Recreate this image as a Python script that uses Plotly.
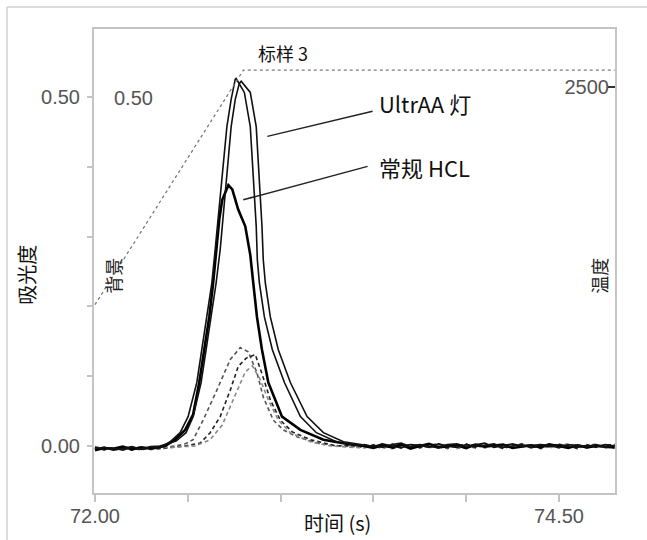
import plotly.graph_objects as go

# ---------------- data ----------------
BASE_T_LEFT = [72.00, 72.05, 72.10, 72.15, 72.20, 72.25, 72.30, 72.35]
BASE_T_RIGHT = [73.45, 73.50, 73.55, 73.60, 73.65, 73.70, 73.75, 73.80, 73.85, 73.90,
                73.95, 74.00, 74.05, 74.10, 74.15, 74.20, 74.25, 74.30, 74.35, 74.40,
                74.45, 74.50, 74.55, 74.60, 74.65, 74.70, 74.75, 74.80]

# UltrAA lamp, replicate a
UA_A_T = [72.405, 72.459, 72.502, 72.549, 72.576, 72.603, 72.630, 72.648, 72.679, 72.711,
          72.734, 72.756, 72.761, 72.805, 72.837, 72.848, 72.859, 72.869, 72.875, 72.886,
          72.913, 72.956, 73.021, 73.107, 73.193, 73.301, 73.431]
UA_A_V = [0.006, 0.019, 0.042, 0.091, 0.138, 0.185, 0.234, 0.282, 0.364, 0.458,
          0.497, 0.526, 0.527, 0.507, 0.458, 0.411, 0.364, 0.315, 0.267, 0.234,
          0.185, 0.138, 0.091, 0.042, 0.019, 0.006, 0.000]
UA_A_L = [-0.004, -0.002, -0.006, -0.003, -0.001, -0.005, -0.002, -0.003]
UA_A_R = [0.002, -0.001, 0.003, 0.000, -0.003, 0.002, 0.001, -0.002, 0.003, 0.000,
          -0.002, 0.002, -0.001, 0.001, 0.003, -0.002, 0.000, 0.002, -0.003, 0.001,
          -0.001, 0.002, 0.000, -0.002, 0.001, -0.001, 0.002, 0.000]

# UltrAA lamp, replicate b
UA_B_T = [72.437, 72.491, 72.529, 72.572, 72.599, 72.626, 72.653, 72.675, 72.702, 72.734,
          72.756, 72.778, 72.788, 72.837, 72.869, 72.880, 72.891, 72.900, 72.907, 72.918,
          72.945, 72.988, 73.053, 73.143, 73.231, 73.339, 73.485]
UA_B_V = [0.007, 0.019, 0.042, 0.091, 0.138, 0.185, 0.234, 0.282, 0.364, 0.458,
          0.497, 0.520, 0.523, 0.507, 0.458, 0.411, 0.364, 0.315, 0.267, 0.234,
          0.185, 0.138, 0.091, 0.042, 0.019, 0.006, 0.000]
UA_B_L = [-0.002, -0.005, -0.003, -0.006, -0.002, -0.004, -0.001, 0.000]
UA_B_R = [0.003, 0.001, -0.002, 0.002, 0.004, -0.001, 0.002, 0.000, -0.003, 0.002,
          0.003, -0.001, 0.001, 0.004, -0.002, 0.001, 0.003, -0.001, 0.000, 0.002,
          0.001, -0.003, 0.002, 0.000, -0.001, 0.002, -0.002, 0.001]

# Conventional HCL
HCL_T = [72.378, 72.432, 72.486, 72.529, 72.562, 72.589, 72.616, 72.637, 72.653, 72.670,
         72.686, 72.707, 72.719, 72.740, 72.772, 72.810, 72.837, 72.853, 72.873, 72.900,
         72.934, 73.008, 73.107, 73.231, 73.377]
HCL_V = [0.000, 0.009, 0.023, 0.045, 0.091, 0.138, 0.185, 0.234, 0.282, 0.325,
         0.353, 0.368, 0.374, 0.368, 0.339, 0.315, 0.274, 0.234, 0.185, 0.138,
         0.091, 0.042, 0.023, 0.009, 0.002]
HCL_L = [-0.006, -0.003, -0.004, -0.001, -0.005, -0.002, -0.004, -0.001]
HCL_R = [0.000, -0.003, 0.001, -0.002, 0.002, -0.004, 0.000, 0.003, -0.002, -0.001,
         0.001, -0.003, 0.002, -0.001, 0.000, 0.002, -0.003, -0.001, 0.001, -0.002,
         0.002, 0.000, -0.003, 0.001, -0.002, 0.000, -0.001, -0.002]

# Background (dashed) traces
D1_T = [72.432, 72.486, 72.529, 72.583, 72.657, 72.729, 72.783, 72.826, 72.873, 72.907,
        72.961, 73.015, 73.089, 73.215, 73.323]
D1_V = [0.000, 0.003, 0.009, 0.037, 0.080, 0.124, 0.141, 0.135, 0.105, 0.070,
        0.037, 0.023, 0.013, 0.003, 0.000]
D1_L = [-0.003, -0.006, -0.002, -0.004, -0.003, -0.006, -0.002, -0.003]
D1_R = [-0.002, 0.002, -0.001, 0.003, -0.003, 0.001, -0.002, 0.002, 0.000, -0.004,
        0.002, 0.000, -0.003, 0.003, -0.001, -0.003, 0.002, 0.000, 0.002, -0.004,
        0.000, 0.003, -0.002, 0.002, -0.003, 0.001, 0.000, -0.003]

D2_T = [72.486, 72.567, 72.621, 72.675, 72.729, 72.772, 72.815, 72.864, 72.902, 72.945,
        72.999, 73.064, 73.161, 73.296]
D2_V = [0.000, 0.004, 0.019, 0.042, 0.080, 0.114, 0.126, 0.131, 0.102, 0.066,
        0.037, 0.020, 0.009, 0.000]
D2_L = [-0.005, -0.002, -0.005, -0.002, -0.006, -0.003, -0.005, -0.004]
D2_R = [0.001, -0.002, 0.003, -0.004, 0.000, 0.002, -0.003, 0.001, 0.003, -0.002,
        -0.001, 0.003, -0.002, 0.000, 0.002, -0.004, 0.001, 0.003, -0.002, 0.000,
        0.003, -0.001, 0.000, -0.004, 0.002, -0.002, 0.001, 0.002]

D3_T = [72.540, 72.621, 72.686, 72.756, 72.810, 72.848, 72.891, 72.934, 72.988, 73.053,
        73.161, 73.269]
D3_V = [0.000, 0.009, 0.030, 0.073, 0.106, 0.115, 0.095, 0.066, 0.037, 0.019,
        0.006, 0.000]
D3_L = [-0.001, -0.004, -0.006, -0.003, -0.004, -0.001, -0.005, -0.003]
D3_R = [-0.003, 0.000, -0.004, 0.001, 0.003, -0.002, 0.002, -0.003, 0.001, 0.002,
        -0.004, -0.001, 0.003, -0.003, 0.001, 0.000, -0.002, 0.003, -0.001, 0.002,
        -0.003, 0.001, 0.003, -0.001, 0.000, 0.003, -0.003, -0.001]

# Furnace temperature program
TEMP_T = [72.00, 72.772, 72.80, 74.80]
TEMP_C = [1160, 2562, 2605, 2605]

X_TICKS = [72.0, 72.5, 73.0, 73.5, 74.0, 74.5]
X_TICK_TEXT = ["72.00", "", "", "", "", "74.50"]
Y_TICKS = [0.0, 0.1, 0.2, 0.3, 0.4, 0.5]
Y_TICK_TEXT = ["0.00", "", "", "", "", "0.50"]
T_TICKS = [2500]
T_TICK_TEXT = ["2500"]


def assemble(pt, pv, lv, rv):
    xs, ys = [], []
    for t, v in zip(BASE_T_LEFT, lv):
        if t < pt[0]:
            xs.append(t); ys.append(v)
    xs += pt; ys += pv
    for t, v in zip(BASE_T_RIGHT, rv):
        if t > pt[-1]:
            xs.append(t); ys.append(v)
    return xs, ys


CJK = "Noto Sans CJK SC"
NUM = "Liberation Sans"
GRAY_TXT = "#555555"
AX = "#c4c4c4"

fig = go.Figure()

# dashed background traces
for (pt, pv, lv, rv, col) in [(D1_T, D1_V, D1_L, D1_R, "#555555"),
                               (D2_T, D2_V, D2_L, D2_R, "#222222"),
                               (D3_T, D3_V, D3_L, D3_R, "#888888")]:
    x, y = assemble(pt, pv, lv, rv)
    fig.add_trace(go.Scatter(x=x, y=y, mode="lines",
                             line=dict(color=col, width=1.6, dash="4px,3px"),
                             hoverinfo="skip", showlegend=False))

# HCL
x, y = assemble(HCL_T, HCL_V, HCL_L, HCL_R)
fig.add_trace(go.Scatter(x=x, y=y, mode="lines", line=dict(color="#000000", width=2.6),
                         hoverinfo="skip", showlegend=False))
# UltrAA
for (pt, pv, lv, rv) in [(UA_A_T, UA_A_V, UA_A_L, UA_A_R), (UA_B_T, UA_B_V, UA_B_L, UA_B_R)]:
    x, y = assemble(pt, pv, lv, rv)
    fig.add_trace(go.Scatter(x=x, y=y, mode="lines", line=dict(color="#111111", width=1.6),
                             hoverinfo="skip", showlegend=False))

# temperature
fig.add_trace(go.Scatter(x=TEMP_T, y=TEMP_C, yaxis="y2", mode="lines",
                         line=dict(color="#7a7a7a", width=1.3, dash="dot"),
                         hoverinfo="skip", showlegend=False))

fig.update_layout(
    width=647, height=540, autosize=False,
    margin=dict(l=94, r=32, t=29, b=47),
    paper_bgcolor="white", plot_bgcolor="white",
    showlegend=False,
    xaxis=dict(range=[71.995, 74.802], tickvals=X_TICKS, ticktext=X_TICK_TEXT,
               ticks="outside", ticklen=7, tickwidth=1.5, tickcolor=AX,
               showline=True, linecolor=AX, linewidth=2, mirror=True,
               showgrid=False, zeroline=False, ticklabelstandoff=-3,
               tickfont=dict(family=NUM, size=20, color=GRAY_TXT)),
    yaxis=dict(range=[-0.0675, 0.598], tickvals=Y_TICKS, ticktext=Y_TICK_TEXT,
               ticks="outside", ticklen=5, tickwidth=1.5, tickcolor=AX,
               showline=True, linecolor=AX, linewidth=2, mirror=True,
               showgrid=False, zeroline=False, ticklabelstandoff=3,
               tickfont=dict(family=NUM, size=20, color=GRAY_TXT)),
    yaxis2=dict(overlaying="y", side="right", range=[0, 2858],
                tickvals=T_TICKS, ticktext=T_TICK_TEXT,
                ticks="inside", ticklen=7, tickwidth=2, tickcolor="#333333",
                ticklabelposition="inside", showline=False, showgrid=False, zeroline=False,
                tickfont=dict(family=NUM, size=20, color=GRAY_TXT)),
)

ann = [
    dict(text="吸光度", x=-0.129, y=0.470, textangle=-90, font=dict(family=CJK, size=20, color="#111")),
    dict(text="时间 (s)", x=0.468, y=-0.0625, font=dict(family=CJK, size=20, color="#111")),
    dict(text="背景", x=0.0365, y=0.468, textangle=-90, font=dict(family=CJK, size=18, color="#222")),
    dict(text="温度", x=0.969, y=0.468, textangle=-90, font=dict(family=CJK, size=18, color="#222")),
    dict(text="0.50", x=0.0749, y=0.851, font=dict(family=NUM, size=20, color=GRAY_TXT)),
    dict(text="标样 3", x=0.363, y=0.948, font=dict(family=CJK, size=18, color="#111")),
    dict(text="UltrAA 灯", x=0.543, y=0.8405, xanchor="left", font=dict(family=CJK, size=22, color="#111")),
    dict(text="常规 HCL", x=0.543, y=0.7026, xanchor="left", font=dict(family=CJK, size=22, color="#111")),
]
for a in ann:
    a.setdefault("xanchor", "center")
    fig.add_annotation(xref="paper", yref="paper", yanchor="middle", showarrow=False, **a)

# leader lines and outer frame
fig.add_shape(type="line", xref="x", yref="y", x0=72.929, y0=0.444, x1=73.496, y1=0.480,
              line=dict(color="#222", width=1.5))
fig.add_shape(type="line", xref="x", yref="y", x0=72.799, y0=0.353, x1=73.469, y1=0.401,
              line=dict(color="#222", width=1.5))
fig.add_shape(type="line", xref="paper", yref="paper", x0=-0.167, y0=1.0474, x1=1.08, y1=1.0474,
              line=dict(color="#d0d0d0", width=1.5))
fig.add_shape(type="line", xref="paper", yref="paper", x0=-0.167, y0=1.0474, x1=-0.167, y1=-0.12,
              line=dict(color="#d0d0d0", width=1.5))

fig.write_html("out.html", config={"displayModeBar": False},
               post_script="document.body.style.margin='0px';document.body.style.overflow='hidden';")
